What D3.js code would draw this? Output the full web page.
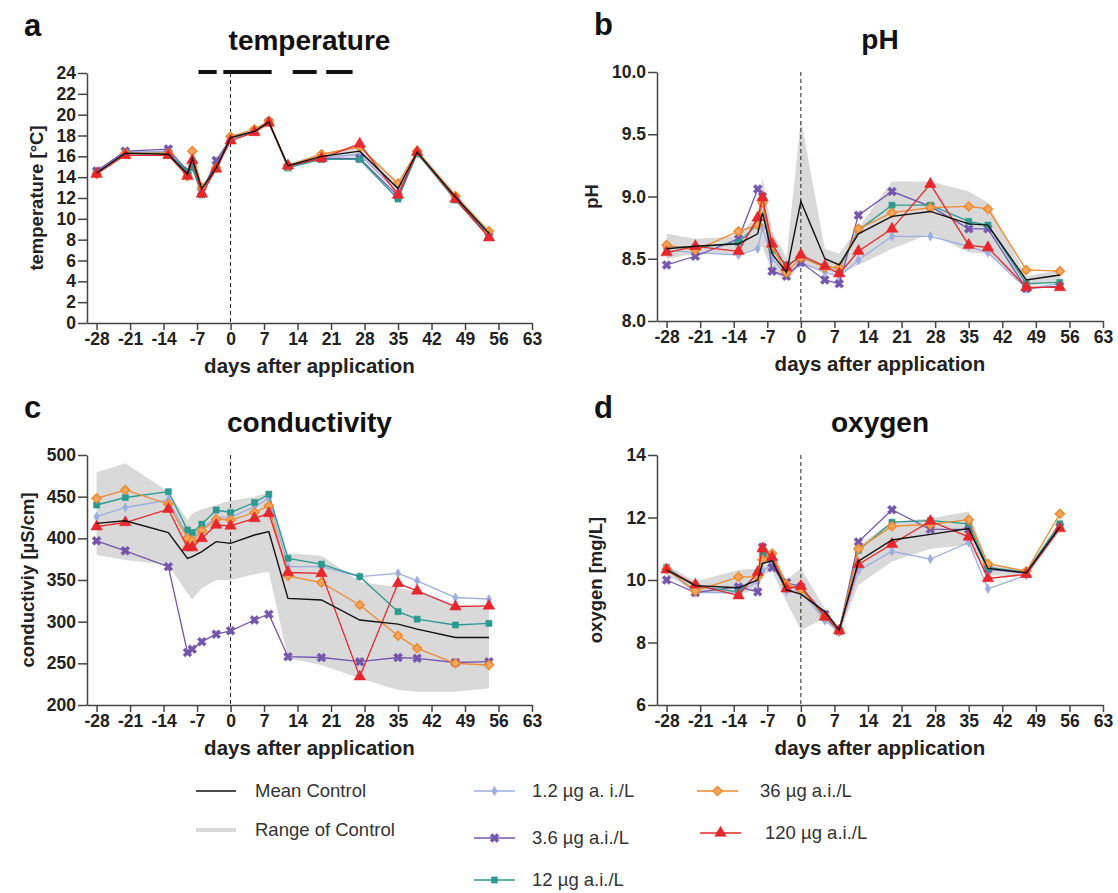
<!DOCTYPE html>
<html>
<head>
<meta charset="utf-8">
<script src="https://cdn.jsdelivr.net/npm/d3@7"></script>
<style>
body { margin: 0; background: #fff; }
text { font-family: Arial, "Liberation Sans", sans-serif; }
</style>
</head>
<body>
<svg width="1118" height="893"></svg>
<script>
// sampling days (days after application)
var days = [-28,-22,-13,-9,-8,-6,-3,0,5,8,12,19,27,35,39,47,54];
var xTicks = [-28,-21,-14,-7,0,7,14,21,28,35,42,49,56,63];

var seriesNames = ["1.2 µg a. i./L","3.6 µg a.i./L","12 µg a.i./L","36 µg a.i./L","120 µg a.i./L"];
var seriesColors = ["#9dade0","#7456ad","#2b9a8f","#f08a2c","#e8262b"];

// temperature
var tempMean = [14.4,16.3,16.2,14.3,15.8,12.9,14.9,17.8,18.4,19.3,15.1,16.0,16.5,12.9,16.4,12.1,8.6];
var tempLow  = [14.2,16.1,16.0,14.0,15.2,12.5,14.6,17.6,18.2,19.1,14.9,15.7,16.0,12.5,16.1,11.8,8.3];
var tempHigh = [14.6,16.5,16.4,14.6,16.3,13.2,15.2,18.0,18.6,19.5,15.3,16.3,17.0,13.4,16.7,12.5,8.9];
var temp1_2  = [14.5,16.4,16.5,14.4,15.0,12.6,15.3,17.8,18.4,19.3,15.0,15.9,16.2,12.5,16.3,12.0,8.4];
var temp3_6  = [14.6,16.5,16.7,14.6,15.3,12.6,15.6,17.7,18.4,19.3,15.0,15.8,15.8,12.2,16.3,12.0,8.3];
var temp12   = [14.4,16.3,16.3,14.5,14.9,12.3,15.0,17.7,18.4,19.3,14.9,15.7,15.7,11.9,16.3,11.8,8.3];
var temp36   = [14.3,16.3,16.3,14.1,16.5,13.0,14.9,17.9,18.6,19.4,15.1,16.2,16.9,13.4,16.5,12.2,8.8];
var temp120  = [14.3,16.1,16.1,14.1,15.6,12.4,14.8,17.5,18.3,19.2,15.1,15.8,17.2,12.3,16.4,11.9,8.2];
// black bars above the temperature panel (day ranges)
var tempBars = [[-6.7,-2.9],[-1.5,8.6],[13,18],[20,25.5]];

// pH
var phMean = [8.58,8.60,8.62,8.70,8.87,8.54,8.39,8.96,8.50,8.45,8.70,8.84,8.88,8.78,8.77,8.33,8.37];
var phLow  = [8.50,8.54,8.54,8.58,8.60,8.39,8.33,8.45,8.40,8.37,8.45,8.58,8.70,8.55,8.54,8.28,8.31];
var phHigh = [8.70,8.66,8.68,8.86,9.15,8.72,8.51,9.62,8.58,8.54,8.75,9.12,9.12,9.04,8.95,8.36,8.41];
var ph1_2  = [8.57,8.55,8.53,8.58,8.75,8.50,8.37,8.47,8.39,8.36,8.49,8.68,8.68,8.60,8.55,8.26,8.30];
var ph3_6  = [8.45,8.52,8.66,9.06,9.00,8.40,8.36,8.47,8.33,8.30,8.85,9.04,8.92,8.74,8.74,8.26,8.28];
var ph12   = [8.60,8.59,8.63,8.78,8.95,8.57,8.45,8.51,8.44,8.42,8.73,8.93,8.93,8.80,8.77,8.30,8.31];
var ph36   = [8.61,8.57,8.72,8.77,8.95,8.60,8.39,8.51,8.43,8.43,8.74,8.87,8.91,8.92,8.90,8.41,8.40];
var ph120  = [8.55,8.60,8.56,8.83,8.99,8.62,8.43,8.53,8.44,8.38,8.56,8.74,9.10,8.61,8.59,8.27,8.27];

// conductivity
var condMean = [418,421,407,376,378,384,396,394,404,408,328,326,302,297,291,281,281];
var condLow  = [380,374,368,334,327,340,350,350,357,360,256,248,232,218,216,216,220];
var condHigh = [479,490,456,422,430,435,440,445,450,455,382,379,348,341,336,320,319];
var cond1_2  = [426,437,446,403,401,412,425,425,438,448,366,366,354,358,349,329,327];
var cond3_6  = [397,385,366,263,267,276,285,289,302,309,258,257,252,257,256,251,252];
var cond12   = [440,449,456,410,407,417,434,431,443,453,376,369,354,312,303,296,298];
var cond36   = [448,458,441,400,397,409,423,422,431,439,355,347,320,283,268,250,248];
var cond120  = [414,419,435,389,389,400,416,415,424,430,359,358,234,346,337,318,319];

// oxygen
var oxyMean = [10.32,9.82,9.75,10.0,10.53,10.61,9.68,9.55,8.99,8.40,10.6,11.28,11.46,11.65,10.37,10.23,11.7];
var oxyLow  = [10.16,9.63,9.52,9.73,10.16,10.27,9.30,8.40,8.77,8.29,9.84,10.59,11.0,11.12,10.16,10.10,11.55];
var oxyHigh = [10.48,9.95,10.32,10.37,10.9,10.96,10.0,10.37,9.10,8.50,11.1,11.87,11.97,12.19,10.53,10.32,11.87];
var oxy1_2  = [10.35,9.60,9.60,9.95,10.30,10.50,9.65,9.65,8.70,8.33,10.30,10.92,10.67,11.20,9.72,10.15,11.70];
var oxy3_6  = [10.0,9.60,9.78,9.62,11.05,10.40,9.92,9.78,8.90,8.37,11.22,12.25,11.62,11.62,10.35,10.22,11.70];
var oxy12   = [10.4,9.80,9.62,10.20,10.80,10.70,9.80,9.75,8.80,8.40,10.95,11.85,11.90,11.80,10.40,10.25,11.80];
var oxy36   = [10.35,9.65,10.10,10.10,10.65,10.85,9.85,9.70,8.85,8.38,11.0,11.72,11.78,11.93,10.52,10.28,12.12];
var oxy120  = [10.33,9.85,9.50,10.25,11.0,10.72,9.72,9.80,8.82,8.38,10.50,11.15,11.88,11.38,10.05,10.18,11.65];

var svg = d3.select("svg");

var symbols = [
    {type: d3.symbolDiamond, size: 26, rot: 0},
    {type: d3.symbolCross, size: 50, rot: 45},
    {type: d3.symbolSquare, size: 38, rot: 0},
    {type: d3.symbolSquare, size: 40, rot: 45},
    {type: d3.symbolTriangle, size: 58, rot: 0}
];

var drawMarker = function(g, k, cx, cy)
{
    g.append("path")
        .attr("d", d3.symbol().type(symbols[k].type).size(symbols[k].size)())
        .attr("transform", "translate(" + cx + "," + cy + ") rotate(" + symbols[k].rot + ")")
        .attr("fill", k == 3 ? "#f7a65e" : seriesColors[k])
        .attr("stroke", seriesColors[k])
        .attr("stroke-width", k == 3 ? 1.5 : 0.5);
}

var drawPanel = function(p)
{
    var x = d3.scaleLinear().domain([-30,63]).range([p.left,p.right]);
    var y = d3.scaleLinear().domain(p.yDomain).range([p.bottom,p.top]);
    var g = svg.append("g");

    g.append("path")
        .datum(days)
        .attr("d", d3.area()
            .x(function(d){ return x(d); })
            .y0(function(d,i){ return y(p.low[i]); })
            .y1(function(d,i){ return y(p.high[i]); }))
        .attr("fill", "#d9d9d9");

    g.append("line")
        .attr("x1", x(0)).attr("x2", x(0))
        .attr("y1", y(p.yDomain[1])).attr("y2", y(p.yDomain[0]))
        .attr("stroke", "#222")
        .attr("stroke-width", 1)
        .attr("stroke-dasharray", "4,3");

    var line = d3.line()
        .x(function(d,i){ return x(days[i]); })
        .y(function(d){ return y(d); });

    p.series.forEach(function(vals, k)
    {
        g.append("path")
            .datum(vals)
            .attr("d", line)
            .attr("fill", "none")
            .attr("stroke", seriesColors[k])
            .attr("stroke-width", 1.3);
        vals.forEach(function(v, i)
        {
            drawMarker(g, k, x(days[i]), y(v));
        });
    });

    g.append("path")
        .datum(p.mean)
        .attr("d", line)
        .attr("fill", "none")
        .attr("stroke", "#111")
        .attr("stroke-width", 1.4);

    var xAxis = d3.axisBottom(x).tickValues(xTicks).tickSize(7).tickSizeOuter(0).tickPadding(3)
        .tickFormat(function(d){ return String(d); });
    var yAxis = d3.axisLeft(y).tickValues(p.yTicks).tickSize(9).tickSizeOuter(0).tickPadding(2)
        .tickFormat(function(d){ return p.fmt ? d.toFixed(1) : String(d); });

    var gx = g.append("g")
        .attr("transform", "translate(0," + p.bottom + ")")
        .call(xAxis);
    var gy = g.append("g")
        .attr("transform", "translate(" + p.left + ",0)")
        .call(yAxis);

    [gx, gy].forEach(function(a)
    {
        a.select(".domain").attr("stroke", "#444").attr("stroke-width", 1.5);
        a.selectAll(".tick line").attr("stroke", "#444").attr("stroke-width", 1.5);
        a.selectAll(".tick text")
            .attr("fill", "#222")
            .style("font-size", "17.5px")
            .style("font-weight", "bold")
            .style("font-family", "Arial, 'Liberation Sans', sans-serif");
    });

    var cx = (p.left + p.right) / 2;
    g.append("text")
        .attr("x", cx).attr("y", p.top - 23)
        .attr("text-anchor", "middle")
        .style("font-size", "28px").style("font-weight", "bold")
        .attr("fill", "#111")
        .text(p.title);

    g.append("text")
        .attr("x", p.left - 63).attr("y", p.top - 37)
        .style("font-size", "31px").style("font-weight", "bold")
        .attr("fill", "#111")
        .text(p.letter);

    g.append("text")
        .attr("x", cx).attr("y", p.bottom + 50)
        .attr("text-anchor", "middle")
        .style("font-size", "20.5px").style("font-weight", "bold")
        .attr("fill", "#222")
        .text("days after application");

    g.append("text")
        .attr("transform", "translate(" + (p.left - p.yTitleOff) + "," + ((p.top + p.bottom) / 2) + ") rotate(-90)")
        .attr("text-anchor", "middle")
        .style("font-size", "18.5px").style("font-weight", "bold")
        .attr("fill", "#222")
        .text(p.yTitle);

    if (p.bars)
    {
        p.bars.forEach(function(b)
        {
            g.append("line")
                .attr("x1", x(b[0])).attr("x2", x(b[1]))
                .attr("y1", p.top - 1).attr("y2", p.top - 1)
                .attr("stroke", "#111")
                .attr("stroke-width", 4);
        });
    }
}

drawPanel({left: 87, right: 532, top: 73, bottom: 323, yDomain: [0,24],
    yTicks: [0,2,4,6,8,10,12,14,16,18,20,22,24], fmt: false,
    title: "temperature", letter: "a", yTitle: "temperature [°C]", yTitleOff: 44,
    mean: tempMean, low: tempLow, high: tempHigh,
    series: [temp1_2, temp3_6, temp12, temp36, temp120], bars: tempBars});

drawPanel({left: 657, right: 1103, top: 72, bottom: 321, yDomain: [8,10],
    yTicks: [8,8.5,9,9.5,10], fmt: true,
    title: "pH", letter: "b", yTitle: "pH", yTitleOff: 59,
    mean: phMean, low: phLow, high: phHigh,
    series: [ph1_2, ph3_6, ph12, ph36, ph120]});

drawPanel({left: 87, right: 532, top: 455, bottom: 705, yDomain: [200,500],
    yTicks: [200,250,300,350,400,450,500], fmt: false,
    title: "conductivity", letter: "c", yTitle: "conductiviy [µS/cm]", yTitleOff: 53,
    mean: condMean, low: condLow, high: condHigh,
    series: [cond1_2, cond3_6, cond12, cond36, cond120]});

drawPanel({left: 657, right: 1103, top: 455, bottom: 705, yDomain: [6,14],
    yTicks: [6,8,10,12,14], fmt: false,
    title: "oxygen", letter: "d", yTitle: "oxygen [mg/L]", yTitleOff: 55,
    mean: oxyMean, low: oxyLow, high: oxyHigh,
    series: [oxy1_2, oxy3_6, oxy12, oxy36, oxy120]});

// legend
var legend = svg.append("g");
var legendText = function(tx, ty, s)
{
    legend.append("text")
        .attr("x", tx).attr("y", ty).attr("dy", "0.35em")
        .style("font-size", "18.5px")
        .attr("fill", "#333")
        .text(s);
}
legend.append("line").attr("x1", 196).attr("x2", 236).attr("y1", 791).attr("y2", 791)
    .attr("stroke", "#111").attr("stroke-width", 1.4);
legendText(255, 791, "Mean Control");
legend.append("line").attr("x1", 196).attr("x2", 236).attr("y1", 830).attr("y2", 830)
    .attr("stroke", "#d9d9d9").attr("stroke-width", 4);
legendText(255, 830, "Range of Control");

var legendPos = [[474,791,532],[474,838,532],[474,880,532],[697,791,760],[700,833,765]];
seriesNames.forEach(function(name, k)
{
    var lp = legendPos[k];
    legend.append("line").attr("x1", lp[0]).attr("x2", lp[0] + 41).attr("y1", lp[1]).attr("y2", lp[1])
        .attr("stroke", seriesColors[k]).attr("stroke-width", 1.5);
    drawMarker(legend, k, lp[0] + 20.5, lp[1]);
    legendText(lp[2], lp[1], name);
});
</script>
</body>
</html>
